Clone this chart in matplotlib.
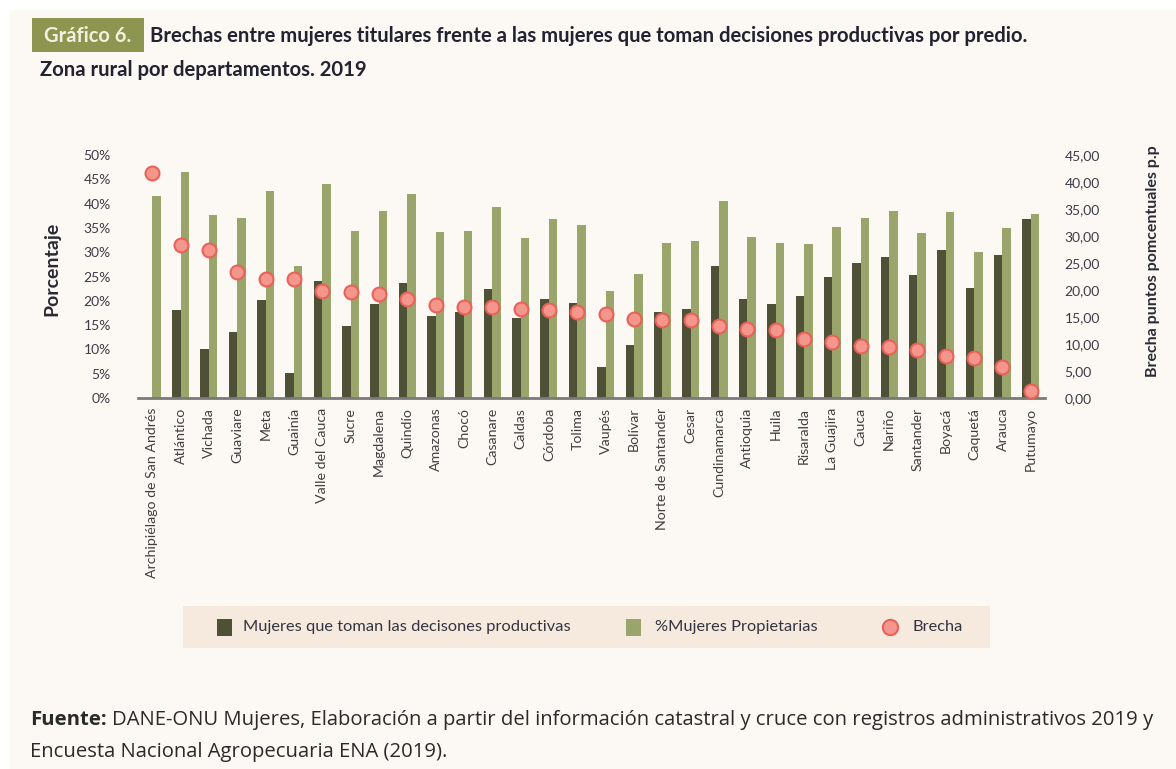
import numpy as np
import matplotlib.pyplot as plt
from matplotlib.patches import Rectangle
from matplotlib.lines import Line2D

# Datos
departamentos = ["Archipiélago de San Andrés", "Atlántico", "Vichada", "Guaviare", "Meta",
                 "Guainía", "Valle del Cauca", "Sucre", "Magdalena", "Quindío", "Amazonas",
                 "Chocó", "Casanare", "Caldas", "Córdoba", "Tolima", "Vaupés", "Bolívar",
                 "Norte de Santander", "Cesar", "Cundinamarca", "Antioquia", "Huila",
                 "Risaralda", "La Guajira", "Cauca", "Nariño", "Santander", "Boyacá",
                 "Caquetá", "Arauca", "Putumayo"]
decisiones = [0.0, 18.1, 10.1, 13.6, 20.2, 5.1, 24.1, 14.9, 19.3, 23.6, 16.9,
              17.6, 22.4, 16.5, 20.3, 19.6, 6.3, 10.9, 17.6, 18.3, 27.2, 20.3, 19.3,
              21.0, 24.9, 27.7, 29.1, 25.3, 30.5, 22.6, 29.5, 36.9]
propietarias = [41.6, 46.4, 37.7, 37.1, 42.6, 27.2, 44.0, 34.4, 38.5, 42.0, 34.2,
                34.4, 39.2, 32.9, 36.8, 35.6, 22.0, 25.5, 31.8, 32.4, 40.5, 33.1, 31.8,
                31.6, 35.1, 37.1, 38.5, 34.0, 38.2, 30.0, 35.0, 37.9]
brecha = [41.6, 28.4, 27.4, 23.4, 22.1, 22.1, 19.8, 19.6, 19.2, 18.3, 17.3,
          16.9, 16.9, 16.5, 16.3, 16.0, 15.5, 14.6, 14.4, 14.4, 13.4, 12.7, 12.6,
          10.9, 10.3, 9.6, 9.5, 8.8, 7.8, 7.5, 5.7, 1.35]

C_OSCURO = '#4f5137'
C_VERDE = '#9aa56c'
C_PUNTO = '#f5968c'
C_BORDE = '#e8625a'
C_FONDO = '#fcf9f4'
C_TEXTO = '#3c3c48'

W, H = 1176, 769
fig = plt.figure(figsize=(W / 100, H / 100), dpi=100, facecolor='white')
fig.patches.append(Rectangle((10 / W, 0), 1, 1 - 10 / H, transform=fig.transFigure,
                             facecolor=C_FONDO, edgecolor='none', zorder=-10))

# titulo
fig.patches.append(Rectangle((32 / W, 1 - 52 / H), 112 / W, 34 / H, transform=fig.transFigure,
                             facecolor='#8c9650', edgecolor='none'))
fig.text(88 / W, 1 - 36 / H, "Gráfico 6.", color='#f3f0df', fontsize=14.5, fontweight='bold',
         family='Lato', va='center', ha='center')
fig.text(150 / W, 1 - 36 / H,
         "Brechas entre mujeres titulares frente a las mujeres que toman decisiones productivas por predio.",
         color='#222230', fontsize=14.6, fontweight='bold', family='Lato', va='center', ha='left')
fig.text(40 / W, 1 - 70 / H, "Zona rural por departamentos. 2019", color='#222230',
         fontsize=14.6, fontweight='bold', family='Lato', va='center', ha='left')

ax = fig.add_axes([138 / W, 1 - 398 / H, 907 / W, 243 / H])
ax.set_facecolor('none')
x = np.arange(len(departamentos))
ax.bar(x - 0.15, decisiones, width=0.3, color=C_OSCURO, zorder=2)
ax.bar(x + 0.15, propietarias, width=0.3, color=C_VERDE, zorder=2)
ax.set_xlim(-0.5, len(departamentos) - 0.5)
ax.set_ylim(0, 50)
ax.set_yticks(np.arange(0, 51, 5))
ax.set_yticklabels([f"{v}%" for v in range(0, 51, 5)], family='Lato', fontsize=10, color=C_TEXTO)
ax.set_xticks(x)
ax.set_xticklabels(departamentos, rotation=90, family='Lato', fontsize=10.2, color='#404040')
ax.tick_params(axis='both', length=0)
ax.tick_params(axis='x', pad=7)
ax.tick_params(axis='y', pad=19.5)
for s in ['top', 'right', 'left']:
    ax.spines[s].set_visible(False)
ax.spines['bottom'].set_color('#7a7a7a')
ax.spines['bottom'].set_linewidth(2)
ax.spines['bottom'].set_zorder(3)
ax.set_ylabel("Porcentaje", family='Lato', fontsize=14, fontweight='bold', color='#2a2a35')
ax.yaxis.set_label_coords(-0.086, 0.53)

ax2 = ax.twinx()
ax2.plot(x, brecha, 'o', markersize=10, markerfacecolor=C_PUNTO, markeredgecolor=C_BORDE,
         markeredgewidth=1.5, zorder=4)
ax2.set_ylim(0, 45)
ax2.set_yticks(np.arange(0, 46, 5))
ax2.set_yticklabels([f"{v},00" for v in range(0, 46, 5)], family='Lato', fontsize=10,
                    color=C_TEXTO)
ax2.tick_params(axis='y', length=0, pad=14)
for s in ['top', 'right', 'left', 'bottom']:
    ax2.spines[s].set_visible(False)
ax2.set_ylabel("Brecha puntos pomcentuales p.p", family='Lato', fontsize=11.5, fontweight='bold',
               color='#2a2a35')
ax2.yaxis.set_label_coords(1.111, 0.564)

# leyenda
fig.patches.append(Rectangle((183 / W, 1 - 648 / H), 807 / W, 42 / H, transform=fig.transFigure,
                             facecolor='#f6eadf', edgecolor='none'))
fig.patches.append(Rectangle((217 / W, 1 - 636 / H), 15 / W, 17 / H, transform=fig.transFigure,
                             facecolor=C_OSCURO, edgecolor='none'))
fig.patches.append(Rectangle((626 / W, 1 - 636 / H), 15 / W, 17 / H, transform=fig.transFigure,
                             facecolor=C_VERDE, edgecolor='none'))
fig.lines.append(Line2D([890 / W], [1 - 627 / H], transform=fig.transFigure, marker='o',
                        markersize=11, markerfacecolor=C_PUNTO, markeredgecolor=C_BORDE,
                        markeredgewidth=1.5))
fig.text(243 / W, 1 - 627 / H, "Mujeres que toman las decisones productivas", family='Lato',
         fontsize=11.8, color='#333340', va='center')
fig.text(655 / W, 1 - 627 / H, "%Mujeres Propietarias", family='Lato', fontsize=11.8,
         color='#333340', va='center')
fig.text(912 / W, 1 - 627 / H, "Brecha", family='Lato', fontsize=11.8, color='#333340',
         va='center')

# fuente
renderer = fig.canvas.get_renderer()
t_f = fig.text(30 / W, 1 - 720 / H, "Fuente:", family='Open Sans', fontsize=14.6,
               fontweight='bold', color='#2a2a2a', va='center')
bb = t_f.get_window_extent(renderer)
fig.text(bb.x1 / W + 5 / W, 1 - 720 / H,
         "DANE-ONU Mujeres, Elaboración a partir del información catastral y cruce con registros administrativos 2019 y",
         family='Open Sans', fontsize=14.6, color='#2a2a2a', va='center')
fig.text(30 / W, 1 - 752 / H, "Encuesta Nacional Agropecuaria ENA (2019).", family='Open Sans',
         fontsize=14.6, color='#2a2a2a', va='center')

fig.savefig('out.png', dpi=100, facecolor=fig.get_facecolor())
